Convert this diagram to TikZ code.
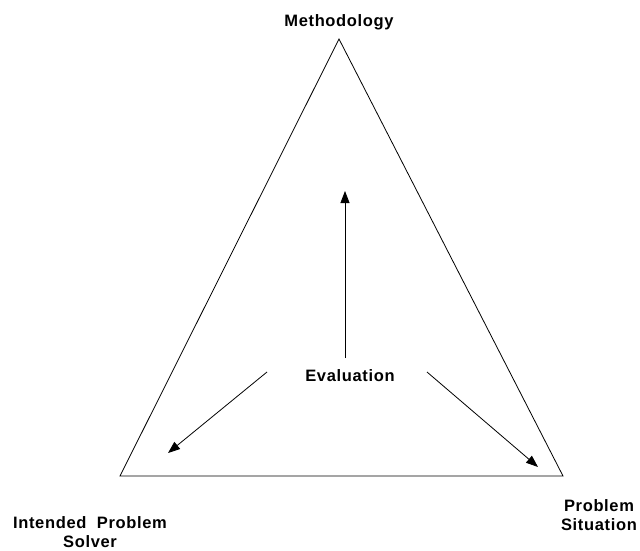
\documentclass[tikz,border=0pt]{standalone}
\usepackage{fontspec}
\setmainfont[LetterSpace=4]{Liberation Sans}
\usetikzlibrary{arrows.meta}

\tikzset{
  lbl/.style={font=\bfseries\fontsize{16.5}{19}\selectfont, align=center, inner sep=0pt},
  arr/.style={-{Triangle[length=12pt,width=9pt]}, line width=0.8pt}
}

\begin{document}
\begin{tikzpicture}[x=1pt,y=-1pt]
      \useasboundingbox (0,0) rectangle (640,551);

      \coordinate (Top) at (339,39);
      \coordinate (BL) at (120,476);
      \coordinate (BR) at (563,476);

      \draw[line width=0.8pt] (Top) -- (BL) -- (BR) -- cycle;

      \node[lbl] (Meth) at (339,22) {Methodology};
      \node[lbl] (Eval) at (350,376) {Evaluation};
      \node[lbl] (Solver) at (90,532) {Intended\ \ Problem\\Solver};
      \node[lbl] (Sit) at (599,515) {Problem\\Situation};

      \coordinate (E1) at (345,358);
      \coordinate (T1) at (345,191);
      \coordinate (E2) at (267,372);
      \coordinate (T2) at (168,453);
      \coordinate (E3) at (427,372);
      \coordinate (T3) at (538,467);

      \draw[arr] (E1) -- (T1);
      \draw[arr] (E2) -- (T2);
      \draw[arr] (E3) -- (T3);
\end{tikzpicture}
\end{document}
